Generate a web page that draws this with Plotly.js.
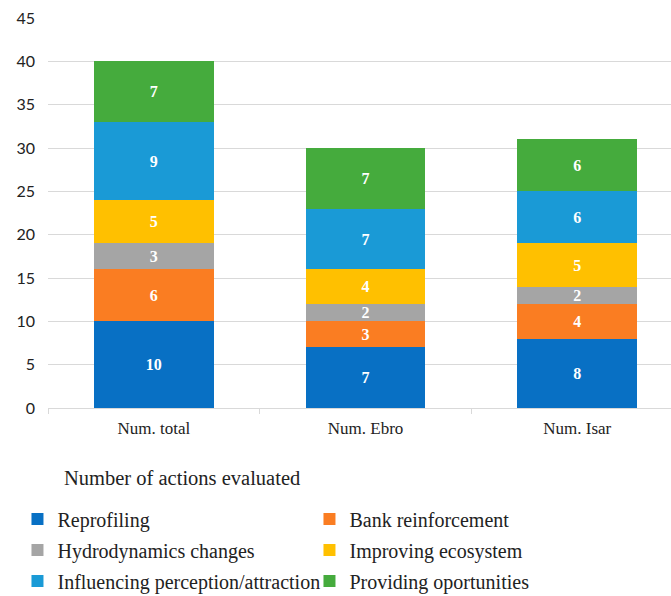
<!DOCTYPE html>
<html>
<head>
<meta charset="utf-8">
<script src="https://cdn.plot.ly/plotly-3.0.1.min.js"></script>
<style>
  html, body { margin: 0; padding: 0; background: #fff; }
  #chart { width: 671px; height: 596px; }
</style>
</head>
<body>
<div id="chart"></div>
<script>
// Categories along the x axis
const categories = ['Num. total', 'Num. Ebro', 'Num. Isar'];

// Number of actions per type, one value per category
const reprofiling = [10, 7, 8];
const bankReinforcement = [6, 3, 4];
const hydrodynamicsChanges = [3, 2, 2];
const improvingEcosystem = [5, 4, 5];
const influencingPerception = [9, 7, 6];
const providingOpportunities = [7, 7, 6];

const seriesNames = [
  'Reprofiling',
  'Bank reinforcement',
  'Hydrodynamics changes',
  'Improving ecosystem',
  'Influencing perception/attraction',
  'Providing oportunities'
];
const seriesValues = [
  reprofiling, bankReinforcement, hydrodynamicsChanges,
  improvingEcosystem, influencingPerception, providingOpportunities
];
const seriesColors = ['#0870C4', '#FA7D22', '#A5A5A5', '#FFC000', '#1A9AD6', '#45AB3D'];
// each legend row holds two entries
const legendOf = ['legend', 'legend', 'legend2', 'legend2', 'legend3', 'legend3'];

const serif = 'Liberation Serif, Times New Roman, serif';

const traces = seriesNames.map((name, i) => ({
  type: 'bar',
  name: name,
  x: categories,
  y: seriesValues[i],
  marker: { color: seriesColors[i], line: { width: 0 } },
  text: seriesValues[i].map(String),
  texttemplate: '%{text}',
  textposition: 'inside',
  insidetextanchor: 'middle',
  textangle: 0,
  constraintext: 'none',
  textfont: { family: serif, size: 16, color: '#ffffff', weight: 'bold' },
  hoverinfo: 'name+y',
  legend: legendOf[i]
}));

const rowLegend = (y) => ({
  orientation: 'h',
  x: -0.049,
  xanchor: 'left',
  y: y,
  yanchor: 'middle',
  entrywidth: 247,
  traceorder: 'normal',
  bgcolor: 'rgba(0,0,0,0)',
  font: { family: serif, size: 20, color: '#222' }
});

const layout = {
  width: 671,
  height: 596,
  margin: { l: 48, r: 0, t: 18, b: 188, autoexpand: false },
  paper_bgcolor: '#ffffff',
  plot_bgcolor: '#ffffff',
  barmode: 'stack',
  bargap: 0.434,
  showlegend: true,
  xaxis: {
    range: [-0.5, 2.443],
    showgrid: false,
    showline: true,
    linecolor: '#D9D9D9',
    linewidth: 1,
    ticks: 'outside',
    tickson: 'boundaries',
    ticklen: 5,
    tickcolor: '#D9D9D9',
    ticklabelstandoff: 5,
    tickfont: { family: serif, size: 17, color: '#222' },
    automargin: false,
    fixedrange: true
  },
  yaxis: {
    range: [0, 45],
    dtick: 5,
    tick0: 0,
    showgrid: true,
    gridcolor: '#D9D9D9',
    gridwidth: 1,
    zeroline: false,
    showline: false,
    ticks: '',
    ticklabelstandoff: 12,
    tickfont: { family: 'Lato, Open Sans, sans-serif', size: 16, color: '#222' },
    automargin: false,
    fixedrange: true
  },
  legend: rowLegend(-0.2846),
  legend2: rowLegend(-0.3641),
  legend3: rowLegend(-0.4436),
  annotations: [{
    text: 'Number of actions evaluated',
    xref: 'paper', yref: 'paper',
    x: 0.022, y: -0.1795,
    xanchor: 'left', yanchor: 'middle',
    showarrow: false,
    font: { family: serif, size: 20.5, color: '#222' }
  }]
};

Plotly.newPlot('chart', traces, layout, { displayModeBar: false, staticPlot: true });
</script>
</body>
</html>
